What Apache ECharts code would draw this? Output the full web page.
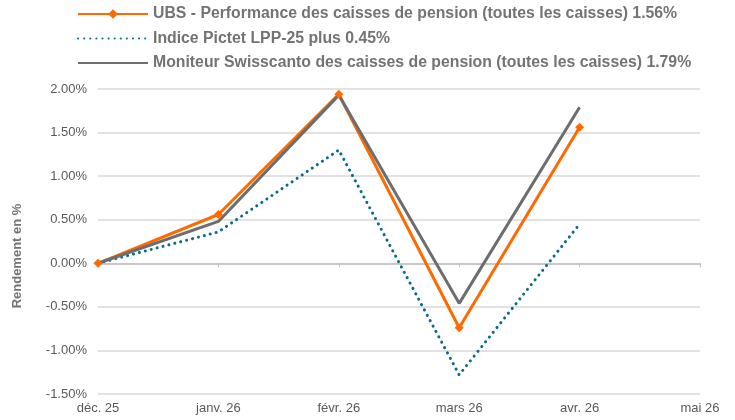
<!DOCTYPE html>
<html><head><meta charset="utf-8">
<script src="https://cdn.jsdelivr.net/npm/echarts@6/dist/echarts.min.js"></script>
<style>html,body{margin:0;padding:0;background:#fff}#c{width:735px;height:420px}</style>
</head><body><div id="c"></div>
<script>
var categories = ['déc. 25','janv. 26','févr. 26','mars 26','avr. 26','mai 26'];
var ubsName = 'UBS - Performance des caisses de pension (toutes les caisses) 1.56%';
var pictetName = 'Indice Pictet LPP-25 plus 0.45%';
var swissName = 'Moniteur Swisscanto des caisses de pension (toutes les caisses) 1.79%';
var ubsValues = [0, 0.56, 1.94, -0.74, 1.56, null];
var pictetValues = [0, 0.36, 1.30, -1.28, 0.45, null];
var swissValues = [0, 0.48, 1.93, -0.46, 1.79, null];
var yTicks = {min: -1.5, max: 2.0, interval: 0.5};

var chart = echarts.init(document.getElementById('c'), null, {renderer:'canvas'});
var font = 'Liberation Sans, Arial, sans-serif';
chart.setOption({
  animation: false,
  textStyle: {fontFamily: font},
  legend: {
    orient: 'vertical', left: 72, top: 1, itemGap: 8.5, itemWidth: 70, itemHeight: 12,
    textStyle: {fontFamily: font, fontSize: 15.8, lineHeight: 16, fontWeight: 'bold', color: '#737373'},
    data: [
      {name: ubsName},
      {name: pictetName, itemStyle: {opacity: 0}},
      {name: swissName, itemStyle: {opacity: 0}}
    ]
  },
  grid: {left: 98, right: 35, top: 89, bottom: 26},
  graphic: [{type:'text', x: 17, y: 256, rotation: Math.PI/2, style:{text:'Rendement en %', font:'bold 13px Liberation Sans, Arial, sans-serif', fill:'#737373', align:'center', verticalAlign:'middle'}}],
  xAxis: [{
    type: 'category', data: categories, boundaryGap: false,
    axisLine: {onZero: true, lineStyle: {color: '#bfbfbf', width: 1.5}},
    axisTick: {show: true, length: 4, lineStyle: {color: '#bfbfbf'}},
    axisLabel: {show: false}, splitLine: {show: false}
  },{
    type: 'category', data: categories, boundaryGap: false, position: 'bottom',
    axisLine: {show: false, onZero: false}, axisTick: {show: false},
    axisLabel: {show: true, color: '#595959', fontSize: 13, margin: 8, fontFamily: font}
  }],
  yAxis: {
    type: 'value', min: yTicks.min, max: yTicks.max, interval: yTicks.interval,
    axisLine: {show: false}, axisTick: {show: false},
    axisLabel: {color: '#595959', fontSize: 13, margin: 11, fontFamily: font, formatter: function(v){return v.toFixed(2)+'%';}},
    splitLine: {lineStyle: {color: '#d9d9d9', width: 1.5}}
  },
  series: [
    {name: ubsName, type: 'line', data: ubsValues, symbol: 'diamond', symbolSize: 9, showSymbol: true,
     itemStyle: {color: '#ff6a00'}, lineStyle: {color: '#ff6a00', width: 3}},
    {name: pictetName, type: 'line', data: pictetValues, symbol: 'none',
     itemStyle: {color: '#0a6b8a'}, lineStyle: {color: '#0a6b8a', width: 3, type: [0.1, 6], cap: 'round'}},
    {name: swissName, type: 'line', data: swissValues, symbol: 'none',
     itemStyle: {color: '#6d6d6d'}, lineStyle: {color: '#6d6d6d', width: 3}}
  ]
});
</script></body></html>
